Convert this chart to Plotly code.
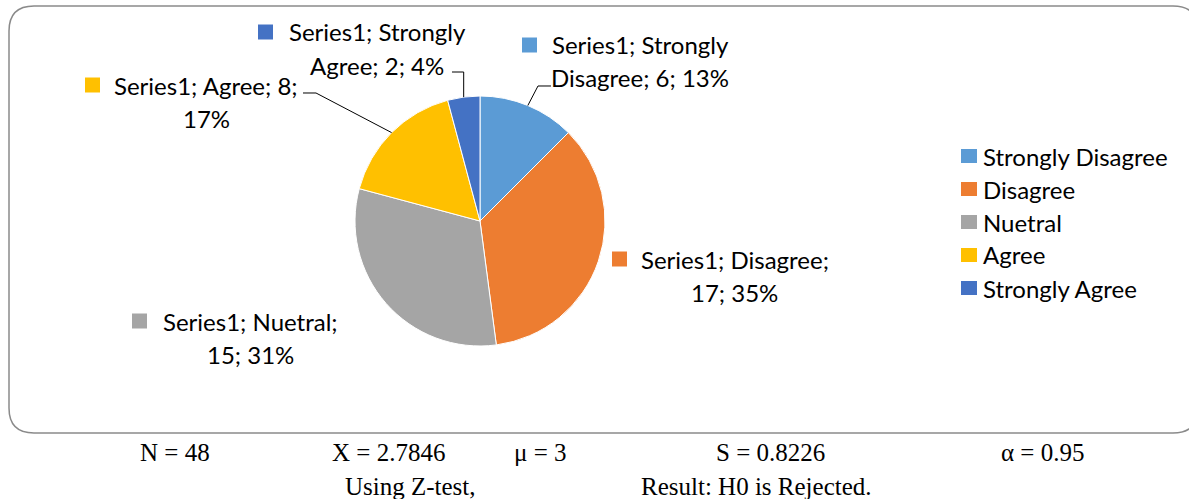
import math
import plotly.graph_objects as go

# ---------------- data ----------------
categories = ["Strongly Disagree", "Disagree", "Nuetral", "Agree", "Strongly Agree"]
counts = [6, 17, 15, 8, 2]
series_name = "Series1"
colors = ["#5B9BD5", "#ED7D31", "#A5A5A5", "#FFC000", "#4472C4"]

stats_line1 = ["N = 48", "X = 2.7846", "μ = 3", "S = 0.8226", "α = 0.95"]
stats_line2 = ["Using Z-test,", "Result: H0 is Rejected."]

# ---------------- layout helpers ----------------
W, H = 1189, 499
def P(x, y):
    return x / W, 1 - y / H

# pie geometry in pixels
CX, CY, R = 480, 221, 125

total = sum(counts)
pcts = [int(math.floor(c / total * 100 + 0.5)) for c in counts]

fig = go.Figure()
dx0, dy0 = P(CX - R, CY + R)
dx1, dy1 = P(CX + R, CY - R)
fig.add_trace(go.Pie(
    labels=categories, values=counts, sort=False, direction="clockwise", rotation=0,
    marker=dict(colors=colors, line=dict(color="white", width=1)),
    textinfo="none", hoverinfo="skip", showlegend=False,
    domain=dict(x=[dx0, dx1], y=[dy0, dy1]),
))

shapes = []
annotations = []

# rounded border
L, T, Rr, B, r = 9, 6, 1198, 433, 25
pts = [("M", [(L + r, T)]), ("L", [(Rr - r, T)]), ("Q", [(Rr, T), (Rr, T + r)]),
       ("L", [(Rr, B - r)]), ("Q", [(Rr, B), (Rr - r, B)]), ("L", [(L + r, B)]),
       ("Q", [(L, B), (L, B - r)]), ("L", [(L, T + r)]), ("Q", [(L, T), (L + r, T)])]
path = ""
for cmd, cs in pts:
    path += cmd + " ".join("%.5f,%.5f" % P(x, y) for x, y in cs) + " "
path += "Z"
shapes.append(dict(type="path", xref="paper", yref="paper", path=path,
                   line=dict(color="#8a8a8a", width=1.5), layer="below"))

# data labels: square position, text center x, first line y, words in first line, leader
label_layout = {
    "Strongly Disagree": dict(sq=(522, 45), cx=640, y1=45, brk=2, leader=[(551, 86), (538, 86)]),
    "Disagree": dict(sq=(612, 259), cx=735, y1=259, brk=2, leader=None),
    "Nuetral": dict(sq=(132, 321), cx=250, y1=321, brk=2, leader=None),
    "Agree": dict(sq=(85, 85), cx=206, y1=85, brk=3, leader=[(303, 93), (316, 93)]),
    "Strongly Agree": dict(sq=(258, 32), cx=377, y1=32, brk=2, leader=[(452, 72), (463.7, 72)]),
}
LINE_GAP = 33
LABEL_FONT = dict(family="Lato, Open Sans, sans-serif", size=24, color="black")

cum = 0
for cat, val, pct, col in zip(categories, counts, pcts, colors):
    mid = (cum + val / 2) / total * 2 * math.pi
    cum += val
    cfg = label_layout[cat]
    words = f"{series_name}; {cat}; {val}; {pct}%".split(" ")
    line1 = " ".join(words[:cfg["brk"]])
    line2 = " ".join(words[cfg["brk"]:])
    for i, txt in enumerate([line1, line2]):
        ax, ay = P(cfg["cx"], cfg["y1"] + i * LINE_GAP)
        annotations.append(dict(x=ax, y=ay, xref="paper", yref="paper", text=txt,
                                showarrow=False, xanchor="center", yanchor="middle",
                                font=LABEL_FONT))
    sx, sy = cfg["sq"]
    x0, y0 = P(sx, sy + 7.5)
    x1, y1 = P(sx + 15, sy - 7.5)
    shapes.append(dict(type="rect", xref="paper", yref="paper", x0=x0, y0=y0, x1=x1, y1=y1,
                       fillcolor=col, line=dict(width=0)))
    if cfg["leader"]:
        ex = CX + R * math.sin(mid)
        ey = CY - R * math.cos(mid)
        poly = cfg["leader"] + [(ex, ey)]
        p = "M" + " L".join("%.5f,%.5f" % P(x, y) for x, y in poly)
        shapes.append(dict(type="path", xref="paper", yref="paper", path=p,
                           line=dict(color="black", width=1)))

# manual legend
LEG_X, LEG_Y0, LEG_GAP = 961, 156, 33
for i, (cat, col) in enumerate(zip(categories, colors)):
    yc = LEG_Y0 + i * LEG_GAP
    x0, y0 = P(LEG_X, yc + 7)
    x1, y1 = P(LEG_X + 16, yc - 7)
    shapes.append(dict(type="rect", xref="paper", yref="paper", x0=x0, y0=y0, x1=x1, y1=y1,
                       fillcolor=col, line=dict(width=0)))
    tx, ty = P(LEG_X + 20, yc)
    annotations.append(dict(x=tx, y=ty, xref="paper", yref="paper", text=cat, showarrow=False,
                            xanchor="left", yanchor="middle", font=LABEL_FONT))

# statistics text below
STAT_FONT = dict(family="Liberation Serif, Times New Roman, serif", size=25, color="black")
for txt, cx in zip(stats_line1, [175, 388, 540, 770, 1042]):
    x, y = P(cx, 452)
    annotations.append(dict(x=x, y=y, xref="paper", yref="paper", text=txt, showarrow=False,
                            xanchor="center", yanchor="middle", font=STAT_FONT))
for txt, cx in zip(stats_line2, [410, 756]):
    x, y = P(cx, 486)
    annotations.append(dict(x=x, y=y, xref="paper", yref="paper", text=txt, showarrow=False,
                            xanchor="center", yanchor="middle", font=STAT_FONT))

fig.update_layout(width=W, height=H, margin=dict(l=0, r=0, t=0, b=0),
                  paper_bgcolor="white", plot_bgcolor="white",
                  shapes=shapes, annotations=annotations, showlegend=False)
fig.write_html("out.html")
